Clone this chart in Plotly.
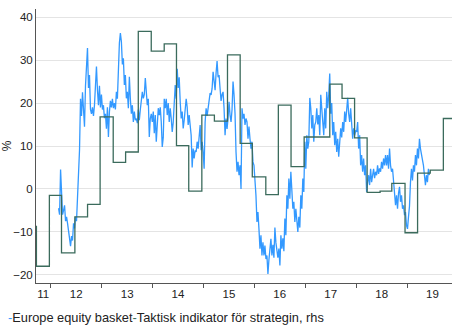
import plotly.graph_objects as go
import pandas as pd

# Europe equity basket (weekly readings, %), from 2012-02-26 to 2019-06-10
basket_start = "2012-02-26"
basket_end = "2019-06-10"
basket_vals = [
    # 2012
    -4.5, -6.0, 4.5, -2.0, -6.0, -5.0, -3.8, -7.5, -6.5, -8.0,
    -10.5, -11.5, -13.3, -11.0, -12.0, -8.0, -9.2, -6.5, -7.5, -2.3,
    0.5, 9.0, 21.0, 17.0, 22.5, 17.5, 14.5, 24.0, 29.5, 32.8,
    23.5, 26.5, 18.5, 17.5, 19.0, 17.0, 19.5, 25.0, 28.5, 23.0,
    19.5, 24.0, 19.0, 22.0, 18.5, 19.5, 16.5,
    # 2013 - mid 2014
    17.5, 14.0, 19.0, 12.1, 18.0, 20.5, 19.0, 21.0, 18.8, 20.0,
    18.5, 22.6, 21.0, 28.9, 34.0, 36.3, 34.3, 29.0, 30.4, 24.2,
    26.5, 21.1, 22.6, 18.8, 26.1, 21.0, 17.5, 19.5, 15.6, 18.0,
    16.0, 16.4, 15.3, 18.5, 16.0, 18.5, 20.0, 22.6, 21.1, 22.0,
    25.8, 21.9, 19.5, 21.0, 12.1, 16.4, 17.5, 15.6, 18.0, 13.0,
    17.2, 11.0, 16.0, 18.8, 17.2, 19.0, 15.6, 9.8, 12.0, 21.0,
    18.8, 21.0, 17.2, 20.0, 15.6, 18.8, 16.4, 13.3, 15.5, 20.3,
    24.2, 21.0,
    # mid 2014 - end 2015
    28.0, 23.5, 26.0, 20.3, 16.4, 18.0, 14.1, 16.0, 18.8, 21.0,
    19.0, 14.9, 17.2, 14.1, 12.5, 5.0, 9.4, 7.1, 9.0, 8.6,
    11.0, 9.4, 12.5, 14.9, 9.0, 11.0, 8.6, 4.7, 15.6, 18.8,
    17.0, 18.8, 20.3, 22.3, 21.9, 23.4, 27.3, 25.0, 23.0, 27.0,
    29.8, 26.0, 26.5, 23.4, 20.5, 22.0, 22.6, 18.8, 12.5, 16.4,
    14.0, 16.5, 20.3, 17.2, 15.6, 18.5, 25.0, 21.9, 17.5, 8.6,
    4.0, 6.3, 3.2, 5.5, 0.0, 18.8, 16.4, 17.5, 14.9, 16.4,
    # end 2015 - early 2017
    15.6, 11.7, 14.5, 11.7, 9.4, 11.0, 6.3, 5.5, 2.4, -1.5,
    -7.7, -5.4, -9.3, -13.9, -10.8, -15.5, -12.4, -15.5, -13.2, -16.3,
    -15.5, -19.8, -16.5, -14.0, -11.6, -15.5, -13.0, -16.0, -9.0, -12.5,
    -13.9, -16.0, -13.9, -17.8, -10.8, -13.9, -11.5, -14.5, -6.9, -10.8,
    -1.5, -4.6, 2.4, -2.3, 4.0, -1.5, -4.6, -3.0, -7.7, -4.6,
    -7.7, -10.0, -6.5, -9.0, -1.5, -4.6, 2.4, -0.7, 11.0, 4.7,
    12.5, 9.4, 11.0, 21.2, 18.8, 14.1, 17.2, 11.0, 14.9, 15.6,
    # early 2017 - late 2018
    18.8, 15.0, 17.2, 12.5, 21.9, 18.8, 16.4, 12.5, 18.8, 14.1,
    22.6, 18.8, 21.9, 26.9, 17.5, 20.0, 12.5, 15.6, 10.2, 13.3,
    8.6, 11.7, 7.5, 10.2, 14.1, 12.0, 15.6, 13.3, 18.0, 15.6,
    18.8, 21.2, 17.5, 15.6, 18.8, 14.1, 11.7, 14.1, 12.5, 13.5,
    13.3, 15.6, 9.4, 12.5, 5.5, 7.9, 4.0, 7.1, 3.2, 5.5,
    -0.7, 1.6, 3.2, 0.9, 4.7, 1.6, 3.2, 4.7, 2.5, 4.0,
    3.2, 5.5, 3.5, 4.8, 4.0, 6.3, 4.7, 7.1, 5.5, 7.9,
    # late 2018 - mid 2019
    5.5, 7.9, 4.7, 9.4, 5.5, 4.0, 4.7, 2.4, 0.0, -3.8,
    -1.5, -4.6, -1.0, 0.5, -3.0, -1.5, -4.6, -3.8, -6.1, -5.4,
    -8.5, -9.3, -6.5, -4.0, 1.6, 4.7, 2.0, 5.5, 4.0, 7.9,
    5.5, 9.4, 7.1, 11.7, 9.4, 8.0, 7.1, 5.5, 3.2, 0.9,
    3.2, 1.6, 4.7, 3.2,
]
basket_dates = pd.date_range(basket_start, basket_end, periods=len(basket_vals))

# Taktisk indikator (quarterly step series)
ind_dates = [
    "2011-09-17", "2011-09-20", "2011-12-22", "2012-03-18", "2012-06-22",
    "2012-09-21", "2012-12-20", "2013-03-24", "2013-06-21", "2013-09-20",
    "2013-12-22", "2014-03-25", "2014-06-21", "2014-09-17", "2014-12-20",
    "2015-03-20", "2015-06-22", "2015-09-21", "2015-12-17", "2016-03-23",
    "2016-06-21", "2016-09-20", "2016-12-23", "2017-06-25", "2017-09-21",
    "2017-12-20", "2018-03-20", "2018-06-21", "2018-09-13", "2018-12-17",
    "2019-03-17", "2019-06-16", "2019-09-18", "2019-11-20",
]
ind_vals = [
    -8.7, -18.0, -1.5, -14.9, -6.5, -3.6, 16.8, 6.2, 8.6, 36.7,
    32.1, 33.8, 10.1, -0.5, 17.2, 15.8, 31.2, 10.6, 2.8, -1.3,
    19.5, 5.2, 12.1, 24.4, 21.1, 11.9, -0.8, -0.5, 1.3, -10.2,
    3.7, 4.4, 16.4, 16.4,
]

year_labels = ["11", "12", "13", "14", "15", "16", "17", "18", "19"]
label_dates = ["2011-11-08", "2012-07-01", "2013-07-02", "2014-07-02", "2015-07-02",
               "2016-07-01", "2017-07-02", "2018-07-02", "2019-07-02"]
year_starts = ["2012-01-01", "2013-01-01", "2014-01-01", "2015-01-01",
               "2016-01-01", "2017-01-01", "2018-01-01", "2019-01-01"]

BLUE = "#3399FF"
GREEN = "#3B6B5C"
FONT = "Liberation Sans, Arial, sans-serif"

fig = go.Figure()
fig.add_trace(go.Scatter(x=basket_dates, y=basket_vals, mode="lines",
                         line=dict(color=BLUE, width=1.3), name="Europe equity basket"))
fig.add_trace(go.Scatter(x=ind_dates, y=ind_vals, mode="lines",
                         line=dict(color=GREEN, width=1.3, shape="hv"),
                         name="Taktisk indikator för strategin, rhs"))

fig.update_layout(
    width=452, height=328,
    margin=dict(l=34, r=0, t=9, b=45),
    paper_bgcolor="white", plot_bgcolor="white",
    showlegend=False,
    font=dict(family=FONT, size=11, color="#222222"),
    xaxis=dict(
        type="date", range=["2011-09-17", "2019-11-19"],
        tickmode="array", tickvals=label_dates, ticktext=year_labels,
        ticks="outside", ticklen=0, tickcolor="rgba(0,0,0,0)", showgrid=False,
        showline=True, linecolor="#555555", linewidth=1,
        tickfont=dict(family=FONT, size=11.5, color="#222222"),
        minor=dict(tickmode="array", tickvals=year_starts, ticks="outside",
                   ticklen=4, tickcolor="#555555", showgrid=False),
        zeroline=False,
    ),
    yaxis=dict(
        range=[-21.9, 41.9], tickmode="array",
        tickvals=[-20, -10, 0, 10, 20, 30, 40],
        showgrid=True, gridcolor="#E4E4E4", gridwidth=1,
        showline=True, linecolor="#555555", linewidth=1,
        zeroline=False, ticks="",
        tickfont=dict(family=FONT, size=11.5, color="#222222"),
        title=dict(text="%", font=dict(family=FONT, size=12, color="#222222"), standoff=5),
    ),
)

fig.add_annotation(
    xref="paper", yref="paper", x=-0.072, y=-0.125, xanchor="left", yanchor="middle",
    showarrow=False, align="left",
    text=(f"<span style='color:{BLUE}'>-</span>Europe equity basket"
          f"<span style='color:{GREEN}'>-</span>Taktisk indikator för strategin, rhs"),
    font=dict(family=FONT, size=12.8, color="#222222"),
)

fig.write_html("out.html", config={"displayModeBar": False},
               post_script="document.body.style.margin='0px';")
